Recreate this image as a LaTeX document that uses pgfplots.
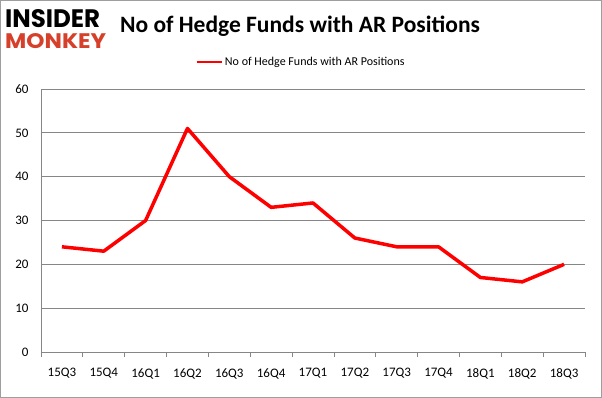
\documentclass[border=0pt]{standalone}
\usepackage{pgfplots}
\pgfplotsset{compat=1.18}
\usepackage{graphicx}
\usepackage{fontspec}
\setmainfont{Carlito}
\newfontfamily\logofont{Poppins}
\definecolor{logored}{RGB}{214,64,43}
\definecolor{gridgray}{RGB}{134,134,134}
\newcommand{\tl}[1]{\textnormal{#1}}
\begin{document}
\begin{tikzpicture}[x=1pt,y=1pt]
\draw[color=gridgray!80, line width=1pt] (0.5,0.5) rectangle (601.5,397.5);
\node[anchor=base west, inner sep=0] at (5,370) {\resizebox{95pt}{18pt}{\logofont\bfseries INSIDER}};
\node[anchor=base west, inner sep=0] at (5,349.5) {\resizebox{101pt}{15pt}{\logofont\bfseries\color{logored}MONKEY}};
\node[anchor=base, inner sep=0, font=\fontsize{23.5}{26}\selectfont\bfseries] at (300,365) {No of Hedge Funds with AR Positions};
\begin{axis}[
  at={(41pt,46pt)}, anchor=south west,
  scale only axis, width=544pt, height=263pt,
  xmin=-0.5, xmax=12.5, ymin=0, ymax=60,
  ytick={0,10,...,60},
  yticklabel={\textnormal{\pgfmathprintnumber[assume math mode=true]{\tick}}},
  xtick={-0.5,0.5,...,12.5},
  x tick label as interval,
  xticklabels={\tl{15Q3},\tl{15Q4},\tl{16Q1},\tl{16Q2},\tl{16Q3},\tl{16Q4},\tl{17Q1},\tl{17Q2},\tl{17Q3},\tl{17Q4},\tl{18Q1},\tl{18Q2},\tl{18Q3}},
  ymajorgrids, grid style={color=gridgray, line width=0.8pt},
  axis x line*=bottom, axis y line*=left,
  axis line style={color=gridgray, line width=0.8pt, -},
  x tick style={color=gridgray, line width=0.8pt},
  y tick style={draw=none},
  tick align=outside, major tick length=5pt,
  ticklabel style={font=\fontsize{13}{15}\selectfont, text=black},
  xticklabel style={yshift=-8pt},
  yticklabel style={xshift=-4pt},
  legend style={at={(0.478,1.103)}, anchor=center, draw=none, fill=none,
    font=\fontsize{12}{14}\selectfont},
  legend image code/.code={\draw[red, line width=2.5pt] (0pt,0pt) -- (25pt,0pt);},
]
\addplot[red, line width=3.5pt, line join=round] coordinates {
(0,24) (1,23) (2,30) (3,51) (4,40) (5,33) (6,34) (7,26) (8,24) (9,24) (10,17) (11,16) (12,20)
};
\addlegendentry{No of Hedge Funds with AR Positions}
\end{axis}
\end{tikzpicture}
\end{document}
